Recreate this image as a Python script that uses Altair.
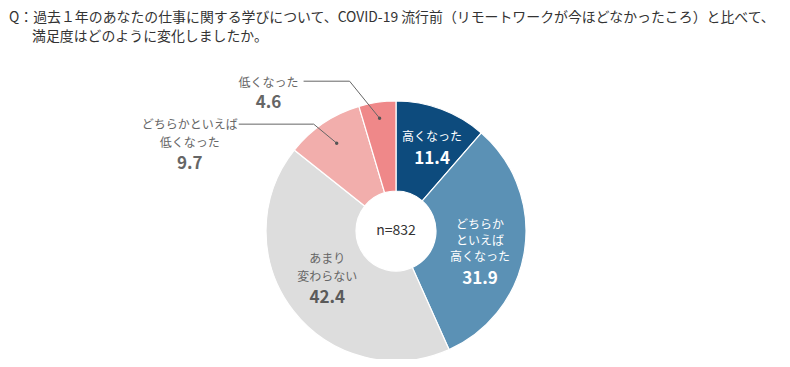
import altair as alt
import pandas as pd
import numpy as np

# ---------------- data ----------------
title_lines = [
    "Q：過去１年のあなたの仕事に関する学びについて、COVID-19 流行前（リモートワークが今ほどなかったころ）と比べて、",
    "満足度はどのように変化しましたか。",
]
categories = ["高くなった", "どちらかといえば高くなった", "あまり変わらない", "どちらかといえば低くなった", "低くなった"]
label_lines = [
    ["高くなった"],
    ["どちらか", "といえば", "高くなった"],
    ["あまり", "変わらない"],
    ["どちらかといえば", "低くなった"],
    ["低くなった"],
]
values = [11.4, 31.9, 42.4, 9.7, 4.6]
n_label = "n=832"

# ---------------- style ----------------
colors = ["#0D4B7D", "#5B91B5", "#DDDDDD", "#F2AEAC", "#EF8889"]
FONT = "Noto Sans CJK JP"
W, H = 774, 351
CX, CY = 388, 223          # donut centre (view coords)
R_OUT, R_IN = 130, 40

inside_style = {
    0: dict(r=103, dys=[2], vdy=24, color="white", vcolor="white"),
    1: dict(r=85, dys=[-18.5, -3, 13], vdy=35, color="white", vcolor="white"),
    2: dict(r=87, dys=[-25, -7], vdy=14, color="#666666", vcolor="#5a5a5a"),
}
outside_style = {
    3: dict(r=106, elbow=(-23, -19), length=75, tdx=-49, dys=[1, 18.5], vdy=40),
    4: dict(r=114, elbow=(-30, -37), length=46, tdx=-35, dys=[2], vdy=22),
}

df = pd.DataFrame({
    "idx": list(range(len(categories))),
    "category": categories,
    "label": ["\n".join(l) for l in label_lines],
    "value": values,
})

theta_scale = alt.Scale(domain=[0, 100])

base = (
    alt.Chart(df)
    .transform_window(cum="sum(value)", sort=[alt.SortField("idx")], frame=[None, 0])
    .transform_calculate(start="datum.cum - datum.value", mid="datum.cum - datum.value / 2")
)

arc = base.mark_arc(outerRadius=R_OUT, innerRadius=R_IN, stroke="white", strokeWidth=1.2).encode(
    theta=alt.Theta("start:Q", scale=theta_scale),
    theta2="cum:Q",
    color=alt.Color("category:N", scale=alt.Scale(domain=categories, range=colors), legend=None),
    x=alt.value(CX),
    y=alt.value(CY),
)

layers = [arc]

# inside labels (polar positions through the theta scale)
for i, st in inside_style.items():
    for j, dy in enumerate(st["dys"]):
        layers.append(
            base.transform_filter(alt.datum.idx == i)
            .transform_calculate(line=f"split(datum.label, '\\n')[{j}]")
            .mark_text(radius=st["r"], dy=dy, font=FONT, fontSize=12, color=st["color"], baseline="middle", align="center")
            .encode(theta=alt.Theta("mid:Q", scale=theta_scale), text="line:N", x=alt.value(CX), y=alt.value(CY))
        )
    layers.append(
        base.transform_filter(alt.datum.idx == i)
        .mark_text(radius=st["r"], dy=st["vdy"], font=FONT, fontSize=17, fontWeight="bold", color=st["vcolor"], baseline="middle", align="center")
        .encode(theta=alt.Theta("mid:Q", scale=theta_scale), text=alt.Text("value:Q", format=".1f"), x=alt.value(CX), y=alt.value(CY))
    )

# outside labels with leader lines (geometry derived from the data angles)
cum = np.cumsum(values)
mids = (cum - np.array(values) / 2) / cum[-1] * 2 * np.pi
seg_rows, dot_rows, txt_rows = [], [], []
for i, st in outside_style.items():
    a = mids[i]
    dx0 = CX + st["r"] * np.sin(a)
    dy0 = CY - st["r"] * np.cos(a)
    ex, ey = dx0 + st["elbow"][0], dy0 + st["elbow"][1]
    endx = ex - st["length"]
    seg_rows.append(dict(x=dx0, y=dy0, x2=ex, y2=ey))
    seg_rows.append(dict(x=ex, y=ey, x2=endx, y2=ey))
    dot_rows.append(dict(x=dx0, y=dy0))
    for j, line in enumerate(label_lines[i]):
        txt_rows.append(dict(x=endx + st["tdx"], y=ey + st["dys"][j], t=line, kind="name"))
    txt_rows.append(dict(x=endx + st["tdx"], y=ey + st["vdy"], t=f"{values[i]:.1f}", kind="value"))

seg_df = pd.DataFrame(seg_rows)
dot_df = pd.DataFrame(dot_rows)
txt_df = pd.DataFrame(txt_rows)

leaders = alt.Chart(seg_df).mark_rule(color="#666666", strokeWidth=1).encode(
    x=alt.X("x:Q", scale=None), y=alt.Y("y:Q", scale=None),
    x2="x2:Q", y2="y2:Q",
)
dots = alt.Chart(dot_df).mark_circle(size=12, color="#555555", opacity=1).encode(
    x=alt.X("x:Q", scale=None), y=alt.Y("y:Q", scale=None),
)
out_names = alt.Chart(txt_df).transform_filter(alt.datum.kind == "name").mark_text(
    font=FONT, fontSize=12, color="#666666", align="center", baseline="middle"
).encode(x=alt.X("x:Q", scale=None), y=alt.Y("y:Q", scale=None), text="t:N")
out_vals = alt.Chart(txt_df).transform_filter(alt.datum.kind == "value").mark_text(
    font=FONT, fontSize=17, fontWeight="bold", color="#666666", align="center", baseline="middle"
).encode(x=alt.X("x:Q", scale=None), y=alt.Y("y:Q", scale=None), text="t:N")

layers += [leaders, dots, out_names, out_vals]

# centre label
center = alt.Chart(pd.DataFrame({"t": [n_label]})).mark_text(
    font=FONT, fontSize=14, color="#333333", align="center", baseline="middle"
).encode(text="t:N", x=alt.value(CX), y=alt.value(CY))
layers.append(center)

# question text
t1 = alt.Chart(pd.DataFrame({"t": [title_lines[0]]})).mark_text(
    font=FONT, fontSize=13.9, color="#333333", align="left", baseline="middle"
).encode(text="t:N", x=alt.value(1), y=alt.value(9.5))
t2 = alt.Chart(pd.DataFrame({"t": [title_lines[1]]})).mark_text(
    font=FONT, fontSize=13.9, color="#333333", align="left", baseline="middle"
).encode(text="t:N", x=alt.value(24), y=alt.value(29))
layers += [t1, t2]

chart = (
    alt.layer(*layers)
    .properties(width=W, height=H, padding=0, autosize=alt.AutoSizeParams(type="none"), background="white")
    .configure_view(stroke=None)
)

chart.save("out.html", embed_options={"renderer": "svg", "actions": False})
